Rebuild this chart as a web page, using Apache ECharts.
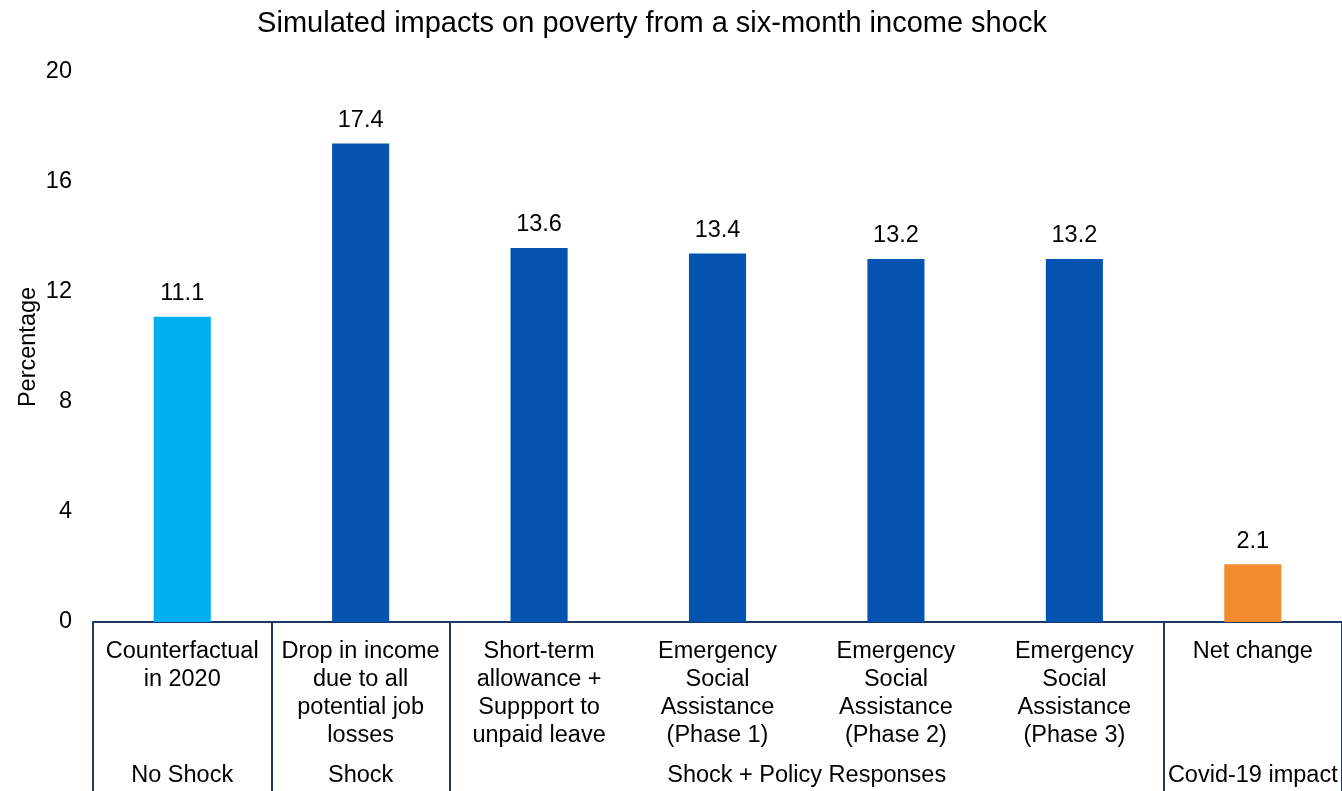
<!DOCTYPE html>
<html>
<head>
<meta charset="utf-8">
<script src="https://cdn.jsdelivr.net/npm/echarts@6/dist/echarts.min.js"></script>
<style>html,body{margin:0;padding:0;background:#fff;}#c{width:1342px;height:791px;}</style>
</head>
<body>
<div id="c"></div>
<script>
const titleText = 'Simulated impacts on poverty from a six-month income shock';
const categories = [
  'Counterfactual\nin 2020',
  'Drop in income\ndue to all\npotential job\nlosses',
  'Short-term\nallowance +\nSuppport to\nunpaid leave',
  'Emergency\nSocial\nAssistance\n(Phase 1)',
  'Emergency\nSocial\nAssistance\n(Phase 2)',
  'Emergency\nSocial\nAssistance\n(Phase 3)',
  'Net change'
];
const values = [11.1, 17.4, 13.6, 13.4, 13.2, 13.2, 2.1];
const barColors = ['#00B0F0', '#0553B0', '#0553B0', '#0553B0', '#0553B0', '#0553B0', '#F48B2C'];
const groups = ['No Shock', 'Shock', 'Shock + Policy Responses', 'Covid-19 impact'];
const groupStart = [0, 1, 2, 6];
const groupEnd = [0, 1, 5, 6];
const yTicks = [0, 4, 8, 12, 16, 20];

const FONT = 'Liberation Sans, Arial, sans-serif';
const chart = echarts.init(document.getElementById('c'), null, {renderer: 'canvas'});
const option = {
  animation: false,
  backgroundColor: '#fff',
  title: {
    text: titleText, left: 647, top: 4, textAlign: 'center',
    textStyle: {fontFamily: FONT, fontSize: 29, fontWeight: 'normal', color: '#000'}
  },
  grid: {left: 93, right: 0, top: 72, bottom: 169, containLabel: false, outerBoundsMode: 'none'},
  xAxis: {
    type: 'category', data: categories,
    axisLine: {show: true, lineStyle: {color: '#1F3864', width: 2}},
    axisTick: {
      show: true, length: 180, inside: false,
      interval: function (i) { return groupStart.indexOf(i) >= 0; },
      lineStyle: {color: '#1F3864', width: 2}
    },
    axisLabel: {
      interval: 0, fontFamily: FONT, fontSize: 23.5, color: '#000',
      lineHeight: 28, margin: 16, align: 'center', verticalAlign: 'top'
    }
  },
  yAxis: {
    type: 'value', min: yTicks[0], max: yTicks[yTicks.length - 1], interval: 4,
    name: 'Percentage', nameLocation: 'middle', nameGap: 52, nameRotate: 90,
    nameMoveOverlap: false,
    nameTextStyle: {fontFamily: FONT, fontSize: 23.5, color: '#000'},
    axisLine: {show: false}, axisTick: {show: false}, splitLine: {show: false},
    axisLabel: {fontFamily: FONT, fontSize: 23.5, color: '#000', margin: 21}
  },
  series: [{
    type: 'bar', barWidth: '32%',
    data: values.map((v, i) => ({value: v, itemStyle: {color: barColors[i]}})),
    label: {
      show: true, position: 'top', distance: 11,
      fontFamily: FONT, fontSize: 23.5, color: '#000',
      formatter: p => p.value.toFixed(1)
    }
  }]
};
chart.setOption(option);

const baseY = chart.convertToPixel({yAxisIndex: 0}, 0);
const texts = groups.map((g, k) => {
  const x1 = chart.convertToPixel({xAxisIndex: 0}, groupStart[k]);
  const x2 = chart.convertToPixel({xAxisIndex: 0}, groupEnd[k]);
  return {
    type: 'text', x: (x1 + x2) / 2, y: baseY + 154,
    style: {text: g, fontFamily: FONT, fontSize: 23.5, fill: '#000', textAlign: 'center', textVerticalAlign: 'middle'}
  };
});
chart.setOption({graphic: texts});
</script>
</body>
</html>
